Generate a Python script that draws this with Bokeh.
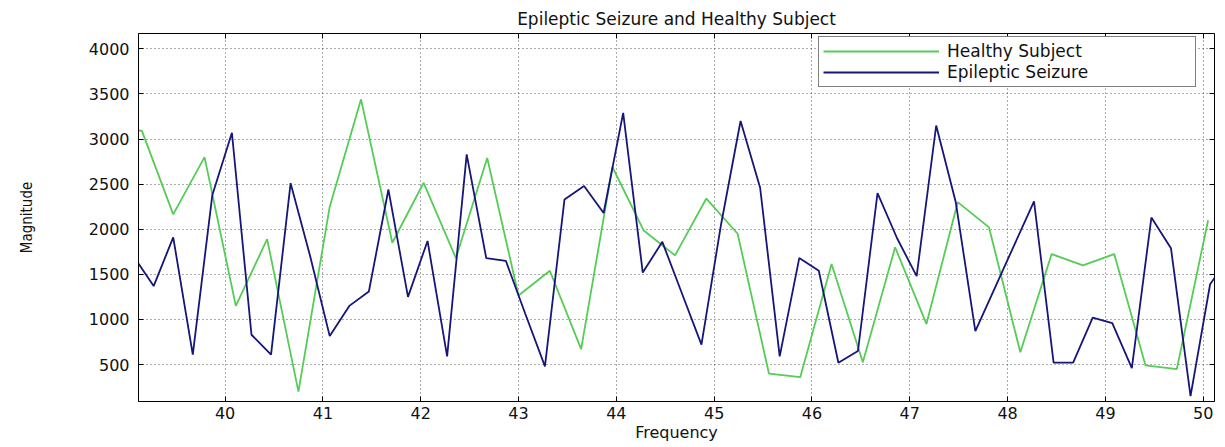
from bokeh.plotting import figure
from bokeh.models import LinearAxis, FixedTicker, Range1d
from bokeh.embed import file_html
from bokeh.resources import INLINE

# Spectrum samples (Hz) and magnitudes for both recordings
healthy_freq = [38.83, 39.15, 39.47, 39.79, 40.11, 40.43, 40.75, 41.07, 41.39, 41.71,
                42.03, 42.36, 42.68, 43.00, 43.32, 43.64, 43.96, 44.28, 44.60, 44.92,
                45.24, 45.56, 45.88, 46.20, 46.52, 46.85, 47.17, 47.49, 47.81, 48.13,
                48.45, 48.77, 49.09, 49.41, 49.73, 50.05]
healthy_mag = [3150, 3090, 2165, 2800, 1150, 1890, 200, 2250, 3440, 1850,
               2515, 1680, 2790, 1265, 1540, 670, 2690, 1985, 1710, 2340,
               1950, 400, 360, 1615, 525, 1800, 950, 2300, 2020, 635,
               1725, 1600, 1725, 490, 450, 2100]

seizure_freq = [39.07, 39.27, 39.47, 39.67, 39.87, 40.07, 40.27, 40.47, 40.67, 40.87,
                41.07, 41.27, 41.47, 41.67, 41.87, 42.07, 42.27, 42.47, 42.67, 42.87,
                43.07, 43.27, 43.47, 43.67, 43.87, 44.07, 44.27, 44.47, 44.67, 44.87,
                45.07, 45.27, 45.47, 45.67, 45.87, 46.07, 46.27, 46.47, 46.67, 46.87,
                47.07, 47.27, 47.47, 47.67, 47.87, 48.07, 48.27, 48.47, 48.67, 48.87,
                49.07, 49.27, 49.47, 49.67, 49.87, 50.07, 50.27]
seizure_mag = [1690, 1370, 1910, 610, 2380, 3070, 830, 610, 2510, 1700,
               815, 1150, 1310, 2440, 1250, 1870, 590, 2830, 1680, 1650,
               1060, 480, 2330, 2480, 2180, 3290, 1520, 1860, 1290, 720,
               2050, 3200, 2460, 590, 1680, 1540, 520, 650, 2400, 1900,
               1480, 3150, 2300, 870, 1350, 1830, 2310, 520, 520, 1020,
               960, 460, 2130, 1790, 150, 1390, 1700]

x_ticks = [40, 41, 42, 43, 44, 45, 46, 47, 48, 49, 50]
y_ticks = [500, 1000, 1500, 2000, 2500, 3000, 3500, 4000]

GREEN = "#55cc55"
NAVY = "#15157a"
FONT = "DejaVu Sans"
INK = "#111111"

p = figure(width=1225, height=447, output_backend="svg", toolbar_location=None,
           x_range=Range1d(39.115, 50.115), y_range=Range1d(90, 4170),
           min_border_left=138, min_border_right=11, min_border_top=33,
           min_border_bottom=46, background_fill_color="white",
           border_fill_color="white")

p.title.text = "Epileptic Seizure and Healthy Subject"
p.title.align = "center"
p.title.text_font = FONT
p.title.text_font_size = "17px"
p.title.text_font_style = "normal"
p.title.text_color = INK

p.outline_line_color = "black"
p.outline_line_width = 1

for ax in (p.xaxis[0], p.yaxis[0]):
    ax.major_tick_in = 5
    ax.major_tick_out = 0
    ax.minor_tick_in = 0
    ax.minor_tick_out = 0
    ax.axis_line_color = "black"
    ax.major_tick_line_color = "black"
    ax.major_label_text_font = FONT
    ax.major_label_text_font_size = "16px"
    ax.major_label_text_color = INK
    ax.axis_label_text_color = INK
    ax.axis_label_text_font_style = "normal"

p.xaxis.ticker = FixedTicker(ticks=x_ticks)
p.yaxis.ticker = FixedTicker(ticks=y_ticks)
p.xaxis.major_label_standoff = 5
p.yaxis.major_label_standoff = 9
p.xaxis.axis_label = "Frequency"
p.xaxis.axis_label_text_font = FONT
p.xaxis.axis_label_text_font_size = "16px"
p.xaxis.axis_label_standoff = 1
p.yaxis.axis_label = "Magnitude"
p.yaxis.axis_label_text_font = "Liberation Sans Narrow, DejaVu Sans Condensed, Roboto"
p.yaxis.axis_label_text_font_size = "15px"
p.yaxis.axis_label_standoff = 50

# inward ticks on the top and right edges of the box (no labels there)
top = LinearAxis(ticker=FixedTicker(ticks=x_ticks), major_tick_in=5, major_tick_out=0,
                 minor_tick_in=0, minor_tick_out=0, major_label_text_font_size="1px",
                 major_label_text_color=None, major_label_standoff=0,
                 axis_line_color=None)
right = LinearAxis(ticker=FixedTicker(ticks=y_ticks), major_tick_in=5, major_tick_out=0,
                   minor_tick_in=0, minor_tick_out=0, major_label_text_font_size="1px",
                   major_label_text_color=None, major_label_standoff=0,
                   axis_line_color=None)
p.add_layout(top, "above")
p.add_layout(right, "right")

for g in (p.xgrid[0], p.ygrid[0]):
    g.grid_line_color = "black"
    g.grid_line_alpha = 0.65
    g.grid_line_dash = "1 3"
    g.grid_line_width = 1
p.xgrid.ticker = FixedTicker(ticks=x_ticks)
p.ygrid.ticker = FixedTicker(ticks=y_ticks)

p.line(healthy_freq, healthy_mag, line_color=GREEN, line_width=1.8,
       legend_label="Healthy Subject")
p.line(seizure_freq, seizure_mag, line_color=NAVY, line_width=1.8,
       legend_label="Epileptic Seizure")

lg = p.legend[0]
lg.location = (680, 314)
lg.label_text_font = FONT
lg.label_text_font_size = "17px"
lg.label_text_color = INK
lg.glyph_width = 116
lg.glyph_height = 16
lg.label_standoff = 8
lg.label_height = 16
lg.label_width = 244
lg.spacing = 1
lg.padding = 4
lg.margin = 0
lg.border_line_color = "black"
lg.border_line_width = 1
lg.background_fill_color = "white"
lg.background_fill_alpha = 1.0

open("out.html", "w").write(file_html(p, INLINE))
